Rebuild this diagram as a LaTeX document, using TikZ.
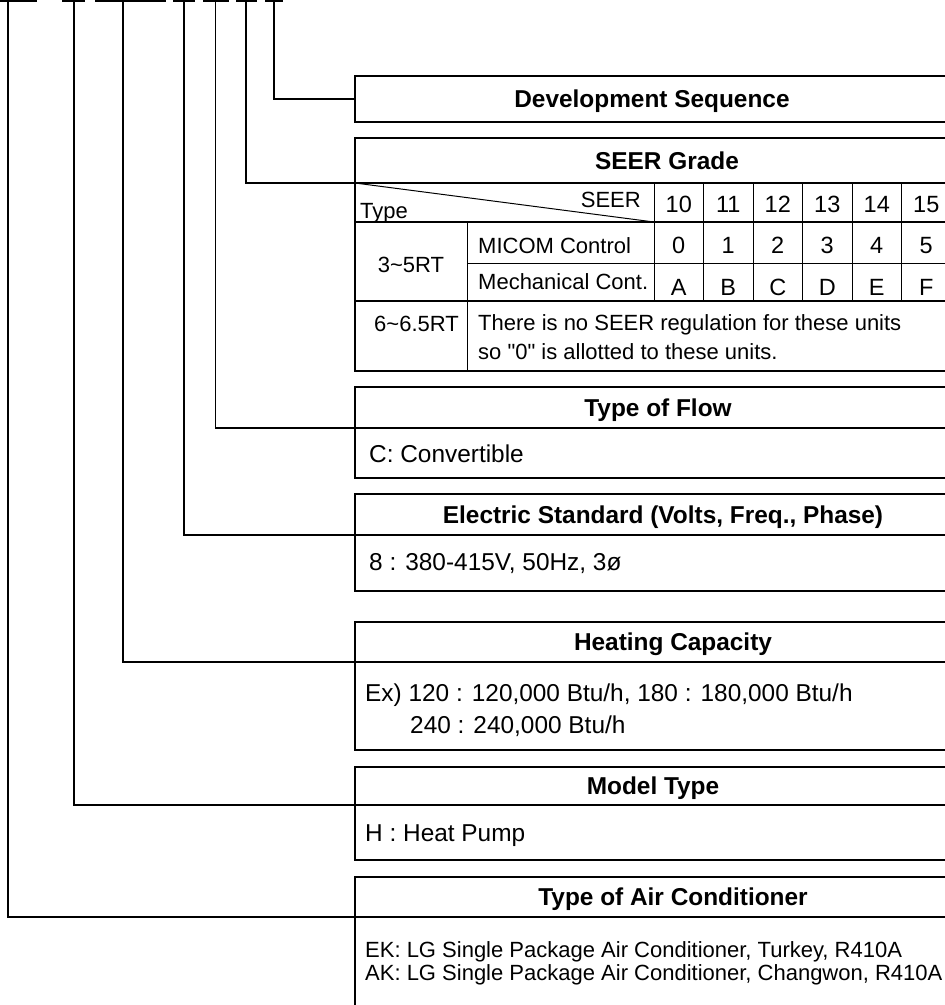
\documentclass[tikz,border=0pt]{standalone}
\usepackage{fontspec}
\setmainfont{Liberation Sans}

\begin{document}
\begin{tikzpicture}[
  x=1pt, y=-1pt,
  headbox/.style={draw, line width=2pt, outer sep=0pt, inner sep=0pt,
    anchor=north west, text height=17.5pt, text depth=0pt,
    font=\fontsize{24.4}{29}\selectfont\bfseries},
  bodybox/.style={draw, line width=2pt, outer sep=0pt, inner sep=0pt,
    anchor=north west, minimum width=620pt},
  bodytext/.style={anchor=base west, inner sep=0pt,
    font=\fontsize{24.4}{29}\selectfont},
  tabtext/.style={anchor=base, inner sep=0pt,
    font=\fontsize{22}{26}\selectfont},
  celltext/.style={anchor=base, inner sep=0pt,
    font=\fontsize{23.5}{26}\selectfont},
  codebar/.style={line width=4pt},
  link/.style={line width=1.3pt},
  thinrule/.style={line width=1pt},
  thickrule/.style={line width=1.6pt},
]
% page frame, the code and the boxes are cut off at the edges
\useasboundingbox (0,0) rectangle (945,1005);
\clip (0,0) rectangle (945,1005);

% underlines of the model code
\foreach \a/\b in {-5/37, 62/85, 95/166, 173/195, 203/229, 236/257, 265/283}
  \draw[codebar] (\a,0) -- (\b,0);
\coordinate (d1) at (8,0);
\coordinate (d2) at (74,0);
\coordinate (d3) at (123,0);
\coordinate (d4) at (184,0);
\coordinate (d5) at (215.5,0);
\coordinate (d6) at (246,0);
\coordinate (d7) at (274,0);

% Development Sequence
\node[headbox, minimum width=594pt, minimum height=46pt] (devhead) at (355,76) {Development Sequence};

% SEER Grade
\node[headbox, minimum width=624pt, minimum height=45pt] (seerhead) at (355,138) {SEER Grade};
\node[bodybox, minimum height=188pt] (seergrid) at (355,183) {};
\draw[thinrule] (355,183) -- (654,222);
\draw[thickrule] (355,222) -- (965,222);
\draw[thinrule] (467,263) -- (965,263);
\draw[thickrule] (355,301) -- (965,301);
\draw[thinrule] (467,222) -- (467,371);
\foreach \x in {654,703.5,753,802.5,852,901.5,951}
  \draw[thinrule] (\x,183) -- (\x,301);
\node[tabtext, anchor=base west] (typelbl) at (360,218) {Type};
\node[tabtext, anchor=base east] (seerlbl) at (641,207) {SEER};
\foreach \g [count=\i from 0] in {10,11,12,13,14,15}
  \node[celltext] (hd\i) at (678.75+49.5*\i,212) {\g};
\foreach \g [count=\i from 0] in {0,1,2,3,4,5}
  \node[celltext] (mi\i) at (678.75+49.5*\i,253.5) {\g};
\foreach \g [count=\i from 0] in {A,B,C,D,E,F}
  \node[celltext] (me\i) at (678.75+49.5*\i,295) {\g};
\node[tabtext, anchor=base west] (micom) at (478,253) {MICOM Control};
\node[tabtext, anchor=base west] (mech) at (478,289.5) {Mechanical Cont.};
\node[tabtext] (rt35) at (411,272.4) {3\textasciitilde5RT};
\node[tabtext, anchor=base east] (rt65) at (459,331) {6\textasciitilde6.5RT};
\node[tabtext, anchor=base west] (note1) at (478,330.6) {There is no SEER regulation for these units};
\node[tabtext, anchor=base west] (note2) at (478,359.4) {so \textquotedbl 0\textquotedbl{} is allotted to these units.};

% Type of Flow
\node[headbox, minimum width=606pt, minimum height=41pt] (flowhead) at (355,387) {Type of Flow};
\node[bodybox, minimum height=50pt] (flowbody) at (355,428) {};
\node[bodytext] (flowtxt) at (369,462.7) {C: Convertible};

% Electric Standard
\node[headbox, minimum width=616pt, minimum height=41pt] (elechead) at (355,494) {Electric Standard (Volts, Freq., Phase)};
\node[bodybox, minimum height=56pt] (elecbody) at (355,535) {};
\node[bodytext] (electxt) at (369,570) {8 : 380-415V, 50Hz, 3ø};

% Heating Capacity
\node[headbox, minimum width=636pt, minimum height=40pt] (heathead) at (355,622) {Heating Capacity};
\node[bodybox, minimum height=88pt] (heatbody) at (355,662) {};
\node[bodytext] (heat1) at (365,701) {Ex) 120 : 120,000 Btu/h, 180 : 180,000 Btu/h};
\node[bodytext] (heat2) at (410,733) {240 : 240,000 Btu/h};

% Model Type
\node[headbox, minimum width=596pt, minimum height=38pt] (modelhead) at (355,767) {Model Type};
\node[bodybox, minimum height=55pt] (modelbody) at (355,805) {};
\node[bodytext] (modeltxt) at (365,841) {H : Heat Pump};

% Type of Air Conditioner
\node[headbox, minimum width=636pt, minimum height=40pt] (achead) at (355,877) {Type of Air Conditioner};
\node[bodybox, minimum height=130pt] (acbody) at (355,917) {};
\node[tabtext, anchor=base west] (ac1) at (365,957) {EK: LG Single Package Air Conditioner, Turkey, R410A};
\node[tabtext, anchor=base west] (ac2) at (365,980) {AK: LG Single Package Air Conditioner, Changwon, R410A};

% leaders from the code to the boxes
\draw[link] (d7) |- (devhead.west);
\draw[link] (d6) |- (seerhead.south west);
\draw[link] (d5) |- (flowhead.south west);
\draw[link] (d4) |- (elechead.south west);
\draw[link] (d3) |- (heathead.south west);
\draw[link] (d2) |- (modelhead.south west);
\draw[link] (d1) |- (achead.south west);
\end{tikzpicture}
\end{document}
